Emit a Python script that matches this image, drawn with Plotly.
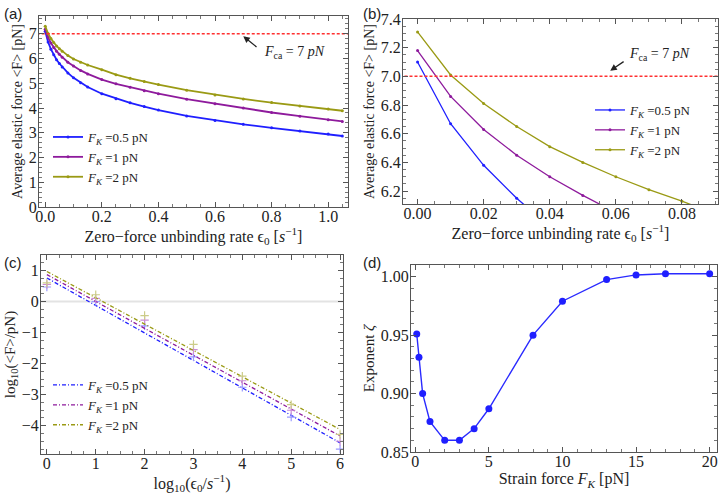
import plotly.graph_objects as go

# panel (a): average elastic force vs zero-force unbinding rate
eps_a = [0, 0.01, 0.02, 0.03, 0.04, 0.05, 0.06, 0.08, 0.10, 0.125, 0.15, 0.2, 0.25,
         0.3, 0.35, 0.4, 0.5, 0.6, 0.7, 0.8, 0.9, 1.0, 1.05]
f_blue_a = [7.10, 6.67, 6.38, 6.15, 5.95, 5.80, 5.66, 5.42, 5.22, 5.02, 4.85, 4.58, 4.38,
            4.21, 4.06, 3.92, 3.68, 3.50, 3.34, 3.20, 3.07, 2.95, 2.87]
f_purple_a = [7.18, 6.86, 6.63, 6.45, 6.30, 6.17, 6.05, 5.85, 5.70, 5.52, 5.38, 5.15, 4.98,
              4.84, 4.70, 4.58, 4.36, 4.17, 4.00, 3.82, 3.67, 3.53, 3.46]
f_olive_a = [7.31, 7.01, 6.81, 6.65, 6.51, 6.40, 6.30, 6.12, 5.98, 5.85, 5.74, 5.55, 5.35,
             5.20, 5.07, 4.95, 4.72, 4.53, 4.37, 4.22, 4.08, 3.96, 3.89]

# panel (b): zoom near eps0 = 0
eps_b = [0, 0.01, 0.02, 0.03, 0.04, 0.05, 0.06, 0.07, 0.08, 0.09]
f_blue_b = [7.10, 6.67, 6.38, 6.15, 5.95, 5.80, 5.66, 5.53, 5.42, 5.32]
f_purple_b = [7.18, 6.86, 6.63, 6.45, 6.30, 6.17, 6.05, 5.95, 5.85, 5.77]
f_olive_b = [7.31, 7.01, 6.81, 6.65, 6.51, 6.40, 6.30, 6.21, 6.13, 6.04]

f_ca = 7

# panel (c): log-log data and fits
log_eps = [0, 1, 2, 3, 4, 5, 6]
logf_blue = [0.47, 0.0, -0.78, -1.78, -2.76, -3.72, -4.75]
logf_purple = [0.55, 0.1, -0.60, -1.55, -2.55, -3.50, -4.50]
logf_olive = [0.60, 0.22, -0.45, -1.38, -2.40, -3.32, -4.28]
fit_x = [0, 6]
fit_blue = [0.76, -4.55]
fit_purple = [0.87, -4.33]
fit_olive = [0.97, -4.12]

# panel (d): exponent vs strain force
fk = [0.1, 0.25, 0.5, 1, 2, 3, 4, 5, 8, 10, 13, 15, 17, 20]
zeta = [0.951, 0.931, 0.900, 0.876, 0.860, 0.860, 0.870, 0.887, 0.950, 0.979,
        0.9975, 1.0015, 1.0025, 1.0025]

labels = ["<i>F<sub>K</sub></i> =0.5 pN", "<i>F<sub>K</sub></i> =1 pN", "<i>F<sub>K</sub></i> =2 pN"]
colors = ["#1f1fff", "#8e1a9c", "#9a9a14"]
light = ["#9a9aff", "#cc8cd6", "#cccc88"]

SERIF = "Liberation Serif"
fig = go.Figure()

# (a)
for ys, c, lab in zip([f_blue_a, f_purple_a, f_olive_a], colors, labels):
    fig.add_trace(go.Scatter(x=eps_a, y=ys, mode="lines+markers", name=lab,
                             line=dict(color=c, width=1.8), marker=dict(color=c, size=3),
                             xaxis="x", yaxis="y", legend="legend"))
fig.add_trace(go.Scatter(x=[-0.03, 1.1], y=[f_ca, f_ca], mode="lines", showlegend=False,
                         line=dict(color="#ff3030", width=1.5, dash="3px,2px"),
                         xaxis="x", yaxis="y"))

# (b)
for ys, c, lab in zip([f_blue_b, f_purple_b, f_olive_b], colors, labels):
    fig.add_trace(go.Scatter(x=eps_b, y=ys, mode="lines+markers", name=lab,
                             line=dict(color=c, width=1.3), marker=dict(color=c, size=3),
                             xaxis="x2", yaxis="y2", legend="legend2"))
fig.add_trace(go.Scatter(x=[-0.01, 0.1], y=[f_ca, f_ca], mode="lines", showlegend=False,
                         line=dict(color="#ff3030", width=1.5, dash="3px,2px"),
                         xaxis="x2", yaxis="y2"))

# (c)
fig.add_trace(go.Scatter(x=[-0.5, 6.5], y=[0, 0], mode="lines", showlegend=False,
                         line=dict(color="#e3e3e3", width=2), xaxis="x3", yaxis="y3"))
for ys, fy, c, lc, lab in zip([logf_blue, logf_purple, logf_olive],
                              [fit_blue, fit_purple, fit_olive], colors, light, labels):
    fig.add_trace(go.Scatter(x=fit_x, y=fy, mode="lines", name=lab,
                             line=dict(color=c, width=1.3, dash="4px,2px,1px,2px"),
                             xaxis="x3", yaxis="y3", legend="legend3"))
    fig.add_trace(go.Scatter(x=log_eps, y=ys, mode="markers", showlegend=False,
                             marker=dict(symbol="cross-thin", size=6, line=dict(color=lc, width=1.2)),
                             xaxis="x3", yaxis="y3"))

# (d)
fig.add_trace(go.Scatter(x=fk, y=zeta, mode="lines+markers", showlegend=False,
                         line=dict(color="#2a2aff", width=1.4),
                         marker=dict(color="#1f1fff", size=7),
                         xaxis="x4", yaxis="y4"))

tick_font = dict(family=SERIF, size=16, color="#222")


def ax(domain, rng, dtick, minor_dtick, anchor, title, fmt=None, standoff=None, lab_off=0, tsize=15):
    d = dict(domain=domain, range=rng, dtick=dtick, tick0=0, anchor=anchor,
             automargin=False, ticklabelstandoff=lab_off,
             showgrid=False, zeroline=False, showline=True, mirror="allticks",
             linecolor="#555", linewidth=1.2, ticks="inside", ticklen=5,
             tickcolor="#555", tickfont=tick_font,
             minor=dict(dtick=minor_dtick, ticks="inside", ticklen=3, tickcolor="#777"),
             title=dict(text=title, font=dict(family=SERIF, size=tsize, color="#222")))
    if fmt:
        d["tickformat"] = fmt
    if standoff is not None:
        d["title"]["standoff"] = standoff
    return d


W, H = 719, 495
XT = "Zero\u2212force unbinding rate \u03f5<sub>0</sub> [<i>s</i><sup>\u22121</sup>]"
YT = "Average elastic force &lt;F&gt; [pN]"
leg_font = dict(family=SERIF, size=13, color="#222")
fig.update_layout(
    width=W, height=H, margin=dict(l=0, r=0, t=0, b=0),
    paper_bgcolor="white", plot_bgcolor="white",
    xaxis=ax([39 / W, 348 / W], [-0.022, 1.07], 0.2, 0.05, "y", XT, ".1f", 0, -5, 16),
    yaxis=ax([1 - 207 / H, 1 - 16 / H], [0, 7.72], 1, 0.2, "x", YT, None, 2, -2, 14),
    xaxis2=ax([403 / W, 718 / W], [-0.0044, 0.0909], 0.02, 0.005, "y2", XT, ".2f", 0, -5, 16),
    yaxis2=ax([1 - 204 / H, 1 - 19 / H], [6.11, 7.4], 0.2, 0.05, "x2", YT, ".1f", 2, -2, 14),
    xaxis3=ax([41 / W, 343 / W], [-0.12, 6.06], 1, 0.25, "y3",
              "log<sub>10</sub>(\u03f5<sub>0</sub>/<i>s</i><sup>\u22121</sup>)", None, 6, -5, 16),
    yaxis3=ax([1 - 454 / H, 1 - 255 / H], [-4.91, 1.5], 1, 0.25, "x3",
              "log<sub>10</sub>(&lt;F&gt;/pN)", None, 2, -2, 15),
    xaxis4=ax([411 / W, 717 / W], [-0.29, 20.5], 5, 1, "y4",
              "Strain force <i>F<sub>K</sub></i> [pN]", None, 0, -5, 16),
    yaxis4=ax([1 - 452 / H, 1 - 265 / H], [0.85, 1.01], 0.05, 0.01, "x4",
              "Exponent <i>\u03b6</i>", ".2f", 2, -2, 15),
    legend=dict(x=48 / W, y=1 - 122 / H, xanchor="left", yanchor="top",
                bgcolor="rgba(0,0,0,0)", font=leg_font, tracegroupgap=0, itemwidth=30),
    legend2=dict(x=590 / W, y=1 - 95 / H, xanchor="left", yanchor="top",
                 bgcolor="rgba(0,0,0,0)", font=leg_font, tracegroupgap=0, itemwidth=30),
    legend3=dict(x=48 / W, y=1 - 370 / H, xanchor="left", yanchor="top",
                 bgcolor="rgba(0,0,0,0)", font=leg_font, tracegroupgap=0, itemwidth=30),
    showlegend=True,
)

fca_text = "<i>F</i><sub>ca</sub> = 7 <i>pN</i>"
fig.add_annotation(x=0.70, y=6.9, xref="x", yref="y", ax=0.752, ay=6.42, axref="x", ayref="y",
                   showarrow=True, arrowhead=2, arrowsize=1, arrowwidth=1.3, arrowcolor="#222",
                   text="")
fig.add_annotation(x=0.765, y=6.23, xref="x", yref="y", xanchor="left", showarrow=False,
                   text=fca_text, font=dict(family=SERIF, size=14, color="#222"))
fig.add_annotation(x=0.0583, y=7.04, xref="x2", yref="y2", ax=0.0628, ay=7.11, axref="x2", ayref="y2",
                   showarrow=True, arrowhead=2, arrowsize=1, arrowwidth=1.3, arrowcolor="#222",
                   text="")
fig.add_annotation(x=0.0635, y=7.15, xref="x2", yref="y2", xanchor="left", showarrow=False,
                   text=fca_text, font=dict(family=SERIF, size=14, color="#222"))

for lab, px, py in [("(a)", 2, 3), ("(b)", 361, 3), ("(c)", 2, 252), ("(d)", 361, 252)]:
    fig.add_annotation(x=px / W, y=1 - py / H, xref="paper", yref="paper", xanchor="left",
                       yanchor="top", showarrow=False, text=lab,
                       font=dict(family="Liberation Sans", size=15, color="#222"))

fig.write_html("out.html", config={"displayModeBar": False},
               post_script="document.body.style.margin='0';")
